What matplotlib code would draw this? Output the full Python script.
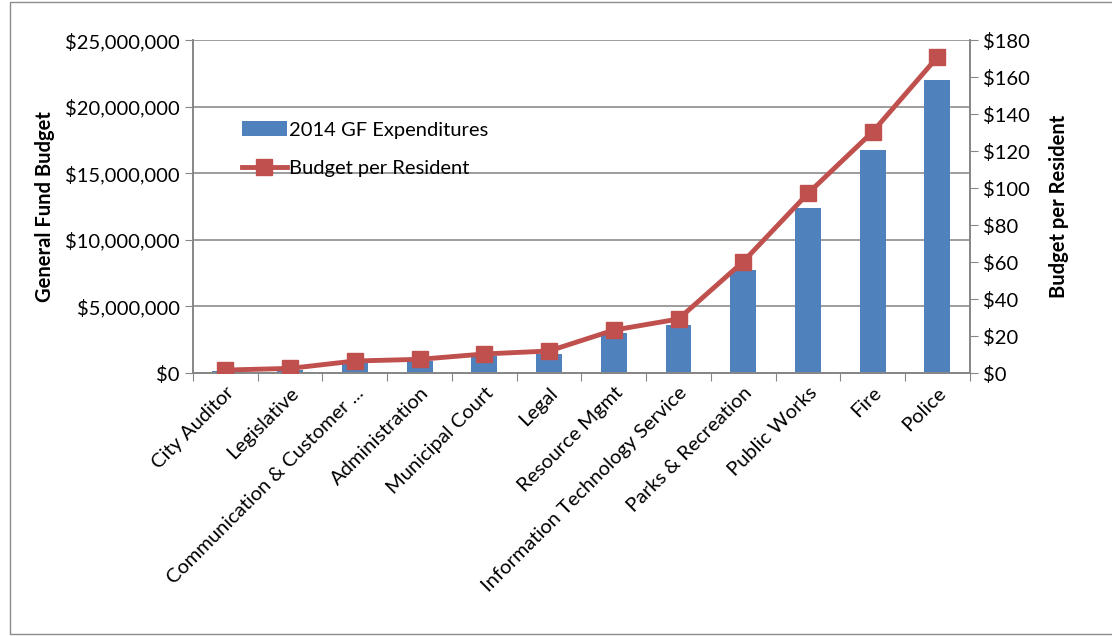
import matplotlib.pyplot as plt
from matplotlib.ticker import FuncFormatter
from matplotlib.patches import Rectangle
import numpy as np

plt.rcParams['font.family'] = ['Lato', 'DejaVu Sans']

# departments, ordered by size
departments = ["City Auditor", "Legislative", "Communication & Customer ...",
               "Administration", "Municipal Court", "Legal", "Resource Mgmt",
               "Information Technology Service", "Parks & Recreation",
               "Public Works", "Fire", "Police"]
gf_expenditures = [150000, 200000, 800000, 900000, 1250000, 1430000, 2980000,
                   3630000, 7730000, 12410000, 16740000, 22000000]
per_resident = [1.6, 2.5, 6.5, 7.4, 10.3, 11.9, 23.2, 29.2, 60.2, 97.1, 130.4, 170.8]

bar_color = "#4F81BD"
line_color = "#C0504D"
axis_gray = "#868686"

fig = plt.figure(figsize=(11.12, 6.36), dpi=100)
ax = fig.add_axes([0.1736, 0.4135, 0.6985, 0.5235])

x = np.arange(len(departments))
ax.bar(x, gf_expenditures, width=0.4, color=bar_color, zorder=2,
       label="2014 GF Expenditures")
ax.set_xlim(-0.5, len(departments) - 0.5)
ax.set_ylim(0, 25000000)
ax.set_yticks(np.arange(0, 25000001, 5000000))
ax.yaxis.set_major_formatter(FuncFormatter(lambda v, p: "${:,.0f}".format(v)))
ax.grid(axis="y", color="#8c8c8c", linewidth=1.2, zorder=0)
ax.set_ylabel("General Fund Budget", fontsize=14.5, fontweight="bold", labelpad=7)

# category ticks sit between the bars
ax.set_xticks(np.arange(-0.5, len(departments), 1.0))
ax.set_xticklabels([])
ax.set_xticks(x, minor=True)
ax.set_xticklabels(departments, minor=True, rotation=45, ha="right",
                   rotation_mode="anchor", fontsize=14.5)
ax.tick_params(axis="x", which="minor", length=0, pad=8)
ax.tick_params(axis="x", which="major", length=6, color=axis_gray)
ax.tick_params(axis="y", length=6, color=axis_gray, labelsize=14.5)

ax2 = ax.twinx()
ax2.plot(x, per_resident, color=line_color, linewidth=3.5, marker="s",
         markersize=12, label="Budget per Resident", zorder=3)
ax2.set_ylim(0, 180)
ax2.set_yticks(np.arange(0, 181, 20))
ax2.yaxis.set_major_formatter(FuncFormatter(lambda v, p: "${:.0f}".format(v)))
ax2.tick_params(axis="y", length=6, color=axis_gray, labelsize=14.5)
ax2.set_ylabel("Budget per Resident", fontsize=14.5, fontweight="bold", labelpad=14)

for a in (ax, ax2):
    a.spines["top"].set_visible(False)
    for s in ("left", "right", "bottom"):
        a.spines[s].set_color(axis_gray)
        a.spines[s].set_linewidth(1.2)

h1, l1 = ax.get_legend_handles_labels()
h2, l2 = ax2.get_legend_handles_labels()
ax2.legend(h1 + h2, l1 + l2, loc="upper left", bbox_to_anchor=(0.04, 0.81),
           frameon=False, fontsize=14.5, handlelength=2.2, labelspacing=1.05,
           handletextpad=0.1)

# outer chart border
fig.patches.append(Rectangle((0.009, 0.003), 0.995, 0.994, transform=fig.transFigure,
                             fill=False, edgecolor="#8c8c8c", linewidth=1))

fig.savefig("out.png", dpi=100)
